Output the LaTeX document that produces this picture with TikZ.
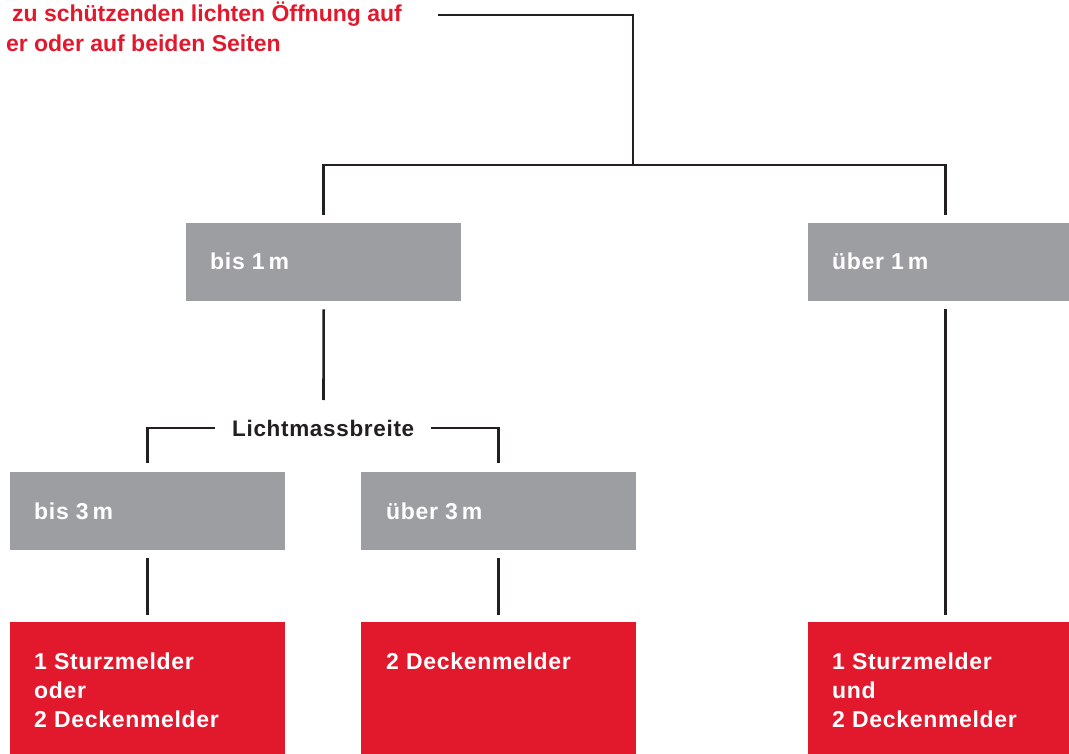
\documentclass[tikz,border=0pt]{standalone}
\usepackage{fontspec}
\setmainfont{Liberation Sans}
\newfontfamily\boxfont[LetterSpace=3]{Liberation Sans}
\definecolor{grayb}{HTML}{9D9EA2}
\definecolor{redb}{HTML}{E2192D}
\definecolor{ink}{HTML}{231F20}
\begin{document}
\begin{tikzpicture}[x=1pt,y=-1pt,
  gbox/.style={fill=grayb, draw=none, minimum width=275pt, minimum height=78pt, anchor=north west, inner sep=0pt},
  rbox/.style={fill=redb, draw=none, minimum width=275pt, minimum height=140pt, anchor=north west, inner sep=0pt},
  btxt/.style={anchor=base west, inner sep=0pt, text=white, align=left, font=\boxfont\bfseries\fontsize{23}{29}\selectfont},
  ttxt/.style={anchor=base east, inner sep=0pt, text=redb, font=\bfseries\fontsize{23}{30}\selectfont},
  conn/.style={draw=ink, line width=2.6pt}
]
\useasboundingbox (0,0) rectangle (1069,754);
\clip (0,0) rectangle (1069,754);

% title
\node[ttxt] (title1) at (402,22) {zu schützenden lichten Öffnung auf};
\node[ttxt] (title2) at (281,52) {er oder auf beiden Seiten};
\coordinate (t0) at (438,15);
\coordinate (j) at (633,165);

% boxes
\node[gbox] (b1) at (186,223) {};
\node[gbox] (b2) at (808,223) {};
\node[gbox] (c1) at (10,472) {};
\node[gbox] (c2) at (361,472) {};
\node[rbox] (r1) at (10,622) {};
\node[rbox] (r2) at (361,622) {};
\node[rbox] (r3) at (808,622) {};

% texts
\node[btxt] (b1t) at (210,270) {bis 1\,m};
\node[btxt] (b2t) at (832,270) {über 1\,m};
\node[btxt] (c1t) at (34,519) {bis 3\,m};
\node[btxt] (c2t) at (386,519) {über 3\,m};
\node[btxt] (r1t) at (34,727) {1 Sturzmelder\\oder\\2 Deckenmelder};
\node[btxt] (r2t) at (386,669) {2 Deckenmelder};
\node[btxt] (r3t) at (832,727) {1 Sturzmelder\\und\\2 Deckenmelder};

\node[anchor=west, inner ysep=0pt, inner xsep=17pt, text=ink, font=\boxfont\bfseries\fontsize{22.5}{25}\selectfont] (lm) at (215,428) {Lichtmassbreite};
\coordinate (lmt) at (323.5,400);

% connectors
\draw[conn] (t0) -| (j);
\draw[conn] ([yshift=8pt]b1.north) |- (j) -| ([yshift=8pt]b2.north);
\draw[conn] ([yshift=-8pt]b1.south) -- (lmt);
\draw[conn] (lm.west) -| ([yshift=9pt]c1.north);
\draw[conn] (lm.east) -| ([yshift=9pt]c2.north);
\draw[conn] ([yshift=-8pt]c1.south) -- ([yshift=7pt]r1.north);
\draw[conn] ([yshift=-8pt]c2.south) -- ([yshift=7pt]r2.north);
\draw[conn] ([yshift=-8pt]b2.south) -- ([yshift=7pt]r3.north);
\end{tikzpicture}
\end{document}
